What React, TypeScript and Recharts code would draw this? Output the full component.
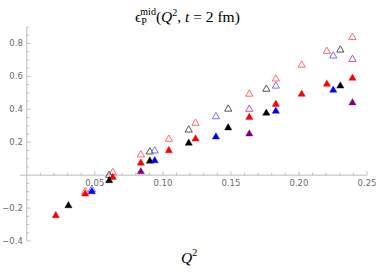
import { ScatterChart, Scatter, XAxis, YAxis, ReferenceLine } from "recharts"

// [Q^2, eps] pairs
const redFilled = [
  [0.0213, -0.24], [0.0429, -0.109], [0.0632, -0.008], [0.0838, 0.079], [0.1044, 0.155],
  [0.124, 0.226], [0.1635, 0.357], [0.183, 0.436], [0.202, 0.497], [0.2205, 0.558], [0.2393, 0.594],
]
const redOpen = [
  [0.0429, -0.095], [0.0632, 0.022], [0.0838, 0.129], [0.1044, 0.224], [0.124, 0.321],
  [0.1635, 0.498], [0.183, 0.59], [0.202, 0.674], [0.2205, 0.758], [0.2393, 0.843],
]
const blackFilled = [
  [0.0306, -0.18], [0.0605, -0.028], [0.0904, 0.091], [0.119, 0.2], [0.148, 0.293], [0.176, 0.382], [0.2304, 0.547],
]
const blackOpen = [
  [0.0605, 0.005], [0.0904, 0.147], [0.119, 0.28], [0.148, 0.407], [0.176, 0.528], [0.2304, 0.766],
]
const blueFilled = [[0.0478, -0.095], [0.094, 0.093], [0.139, 0.238], [0.183, 0.394], [0.2252, 0.522]]
const blueOpen = [[0.0478, -0.081], [0.094, 0.153], [0.139, 0.361], [0.183, 0.547], [0.2252, 0.73]]
const purpleFilled = [[0.0838, 0.026], [0.1635, 0.256], [0.2393, 0.445]]
const purpleOpen = [[0.1635, 0.406], [0.2393, 0.709]]

const xMajor = [0.05, 0.1, 0.15, 0.2, 0.25]
const xMinor = [0.01, 0.02, 0.03, 0.04, 0.06, 0.07, 0.08, 0.09, 0.11, 0.12, 0.13, 0.14, 0.16, 0.17, 0.18, 0.19, 0.21, 0.22, 0.23, 0.24]
const xLabels = ["0.05", "0.10", "0.15", "0.20", "0.25"]
const yMajor = [-0.4, -0.2, 0.2, 0.4, 0.6, 0.8]
const yMinor = [-0.35, -0.3, -0.25, -0.15, -0.1, -0.05, 0.05, 0.1, 0.15, 0.25, 0.3, 0.35, 0.45, 0.5, 0.55, 0.65, 0.7, 0.75, 0.85, 0.9]
const yLabels = ["\u22120.4", "\u22120.2", "0.2", "0.4", "0.6", "0.8"]

const W = 384
const H = 275
const M = { top: 27, right: 17, bottom: 33, left: 19 }
const AX_W = 1 // y axis width / x axis height, kept tiny
const X_DOM: [number, number] = [-0.005, 0.25]
const Y_DOM: [number, number] = [-0.4, 0.9]
// where the axes cross (data 0,0) inside the plot box
const PLOT_L = M.left + AX_W
const PLOT_H = H - M.top - M.bottom - AX_W
const PLOT_W = W - PLOT_L - M.right
const ZERO_Y = M.top + PLOT_H * (Y_DOM[1] / (Y_DOM[1] - Y_DOM[0]))
const ZERO_X = PLOT_L + PLOT_W * (-X_DOM[0] / (X_DOM[1] - X_DOM[0]))

const AXIS = "#b3b3b3"
const TICK_TEXT = "#6b6b6b"

const toPts = (arr: number[][]) => arr.map(([x, y]) => ({ x, y }))

function tri(color: string, open: boolean) {
  return (p: any) => {
    const { cx, cy } = p
    if (cx == null || cy == null) return <g />
    const pts = `${cx},${cy - 3.3} ${cx - 3.6},${cy + 3} ${cx + 3.6},${cy + 3}`
    return open ? (
      <polygon points={pts} fill="none" stroke={color} strokeWidth={0.9} />
    ) : (
      <polygon points={pts} fill={color} stroke={color} strokeWidth={0.4} />
    )
  }
}

function XTick(props: any) {
  const { x, payload } = props
  const i = xMajor.findIndex((v) => Math.abs(v - payload.value) < 1e-6)
  const major = i >= 0
  return (
    <g>
      <line x1={x} x2={x} y1={ZERO_Y} y2={ZERO_Y - (major ? 4 : 2.5)} stroke={AXIS} strokeWidth={0.8} />
      {major && (
        <text x={x} y={ZERO_Y + 11} textAnchor="middle" fill={TICK_TEXT} fontSize={8.5} fontFamily="DejaVu Sans">
          {xLabels[i]}
        </text>
      )}
    </g>
  )
}

function YTick(props: any) {
  const { y, payload } = props
  const i = yMajor.findIndex((v) => Math.abs(v - payload.value) < 1e-6)
  const major = i >= 0
  return (
    <g>
      <line x1={ZERO_X} x2={ZERO_X + (major ? 4 : 2.5)} y1={y} y2={y} stroke={AXIS} strokeWidth={0.8} />
      {major && (
        <text x={ZERO_X - 4} y={y + 3} textAnchor="end" fill={TICK_TEXT} fontSize={8.5} fontFamily="DejaVu Sans">
          {yLabels[i]}
        </text>
      )}
    </g>
  )
}

export default function App() {
  return (
    <div style={{ position: "absolute", left: 0, top: 0, width: W, height: H, background: "#fff" }}>
      <ScatterChart width={W} height={H} margin={M}>
        <XAxis
          type="number"
          dataKey="x"
          domain={X_DOM}
          ticks={[...xMinor, ...xMajor]}
          interval={0}
          height={AX_W}
          axisLine={false}
          tickLine={false}
          tick={(p: any) => <XTick {...p} />}
          allowDataOverflow
        />
        <YAxis
          type="number"
          dataKey="y"
          domain={Y_DOM}
          ticks={[...yMinor, ...yMajor]}
          interval={0}
          width={AX_W}
          axisLine={false}
          tickLine={false}
          tick={(p: any) => <YTick {...p} />}
          allowDataOverflow
        />
        <ReferenceLine y={0} stroke={AXIS} strokeWidth={0.9} />
        <ReferenceLine x={0} stroke={AXIS} strokeWidth={0.9} />
        <Scatter data={toPts(redOpen)} shape={tri("#ff5c5c", true)} isAnimationActive={false} />
        <Scatter data={toPts(blackOpen)} shape={tri("#444444", true)} isAnimationActive={false} />
        <Scatter data={toPts(blueOpen)} shape={tri("#6464ff", true)} isAnimationActive={false} />
        <Scatter data={toPts(purpleOpen)} shape={tri("#a64ca6", true)} isAnimationActive={false} />
        <Scatter data={toPts(redFilled)} shape={tri("#ff0000", false)} isAnimationActive={false} />
        <Scatter data={toPts(blackFilled)} shape={tri("#000000", false)} isAnimationActive={false} />
        <Scatter data={toPts(blueFilled)} shape={tri("#0000ff", false)} isAnimationActive={false} />
        <Scatter data={toPts(purpleFilled)} shape={tri("#800080", false)} isAnimationActive={false} />
        <text x={135} y={22} fontFamily="Liberation Serif" fontSize={15.5} fill="#000">
          <tspan>ϵ</tspan>
          <tspan fontSize={10} dy={3}>P</tspan>
          <tspan fontSize={10} dx={-6.5} dy={-10}>mid</tspan>
          <tspan dy={7}>(</tspan>
          <tspan fontStyle="italic">Q</tspan>
          <tspan fontSize={10} dy={-6}>2</tspan>
          <tspan dy={6}>, </tspan>
          <tspan fontStyle="italic">t</tspan>
          <tspan> = 2 fm)</tspan>
        </text>
        <text x={181} y={263} fontFamily="Liberation Serif" fontSize={15.5} fill="#000">
          <tspan fontStyle="italic">Q</tspan>
          <tspan fontSize={10} dy={-7}>2</tspan>
        </text>
      </ScatterChart>
    </div>
  )
}
